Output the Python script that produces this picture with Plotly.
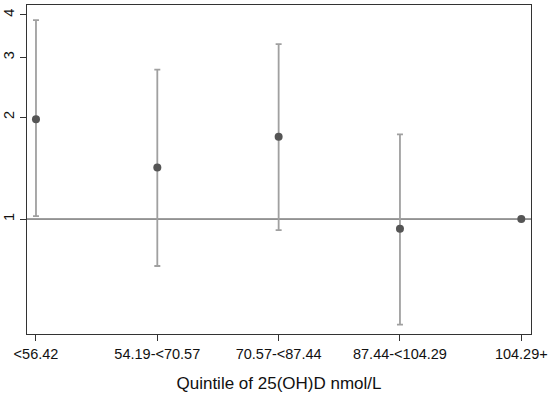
import plotly.graph_objects as go
import math

categories = ["<56.42", "54.19-<70.57", "70.57-<87.44", "87.44-<104.29", "104.29+"]
estimate = [1.97, 1.42, 1.75, 0.936, 1.0]
ci_lower = [1.02, 0.727, 0.928, 0.488, 1.0]
ci_upper = [3.86, 2.76, 3.28, 1.778, 1.0]
y_ticks = [1, 2, 3, 4]

x_idx = list(range(len(categories)))
err_plus = [u - e for u, e in zip(ci_upper, estimate)]
err_minus = [e - l for e, l in zip(estimate, ci_lower)]

fig = go.Figure()
fig.add_trace(go.Scatter(
    x=x_idx, y=estimate, mode="markers",
    marker=dict(color="#555555", size=8),
    error_y=dict(type="data", symmetric=False, array=err_plus, arrayminus=err_minus,
                 color="#a0a0a0", thickness=1.8, width=3),
    showlegend=False,
))
fig.add_shape(type="line", xref="paper", x0=0, x1=1, yref="y", y0=1, y1=1,
              line=dict(color="#333333", width=1), layer="below")

fig.update_layout(
    width=550, height=395,
    margin=dict(l=27, r=19, t=5, b=61, autoexpand=False),
    plot_bgcolor="white", paper_bgcolor="white",
    font=dict(family="Liberation Sans, Arial, sans-serif", size=14.5, color="#111111"),
    xaxis=dict(
        range=[-0.074, 4.08], tickmode="array", tickvals=x_idx, ticktext=categories,
        ticks="outside", ticklen=6, tickcolor="#333333", showgrid=False, zeroline=False,
        showline=True, linecolor="#333333", linewidth=1.3, mirror=True, automargin=False,
        title=dict(text="Quintile of 25(OH)D nmol/L", standoff=16),
    ),
    yaxis=dict(
        type="log", range=[math.log10(0.458), math.log10(4.28)],
        tickmode="array", tickvals=y_ticks, ticktext=[str(t) for t in y_ticks],
        tickangle=-90, ticks="outside", ticklen=6, tickcolor="#333333",
        showgrid=False, zeroline=False, automargin=False,
        showline=True, linecolor="#333333", linewidth=1.3, mirror=True,
    ),
)
fig.write_html("out.html", config={"displayModeBar": False},
               post_script="document.body.style.margin='0';")
